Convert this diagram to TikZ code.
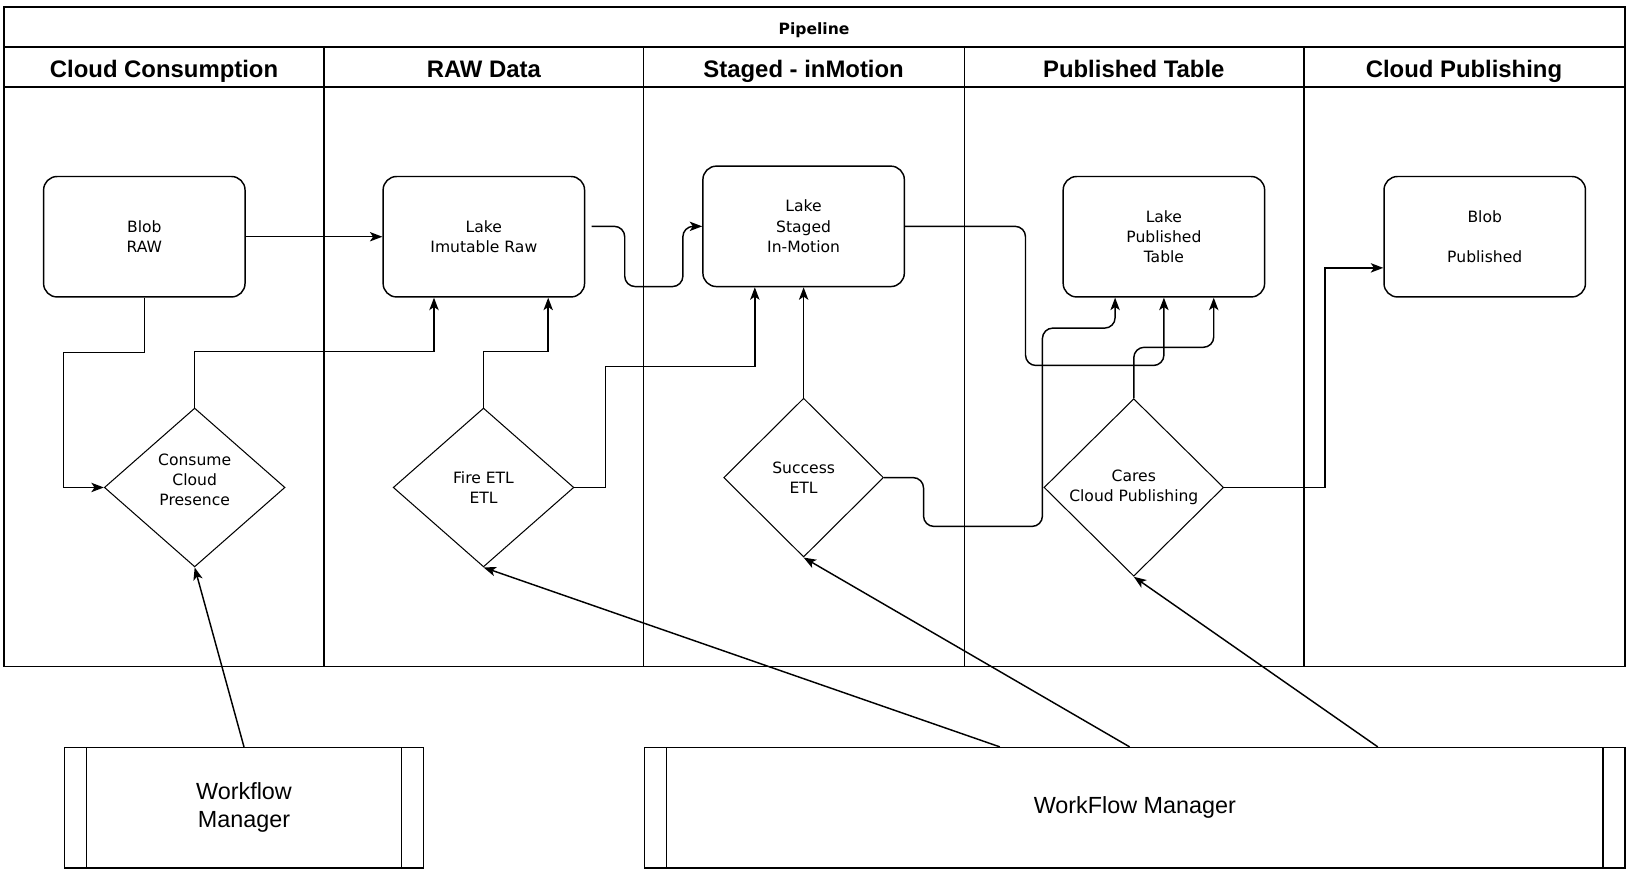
\documentclass[tikz,border=0pt]{standalone}
\usepackage{fontspec}
\setmainfont{Liberation Sans}
\newfontfamily\boxfont{DejaVu Sans}
\usetikzlibrary{arrows.meta,shapes.geometric,calc}

\begin{document}
\begin{tikzpicture}[
		x=1pt, y=-1pt,
		frame/.style={
			line width=1.6pt,
		},
		lanes/.style={
			line width=1.2pt,
		},
		lanehead/.style={
			draw=none,
			fill=none,
			anchor=base,
			font=\bfseries\fontsize{23}{27}\selectfont
		},
		store/.style={
			draw,
			rounded corners=13pt,
			line width=1.4pt,
			minimum width=194pt,
			minimum height=116pt,
			align=center,
			font=\boxfont\fontsize{15}{19.5}\selectfont
		},
		decide/.style={
			draw,
			diamond,
			inner sep=0pt,
			line width=1pt,
			minimum width=174pt,
			minimum height=153pt,
			align=center,
			font=\boxfont\fontsize{15}{19.5}\selectfont
		},
		manager/.style={
			draw,
			line width=1.3pt,
			minimum height=116pt,
			align=center,
			font=\fontsize{22.5}{27}\selectfont,
			path picture={
				\draw[line width=1.3pt] ([xshift=21pt]path picture bounding box.north west) -- ([xshift=21pt]path picture bounding box.south west);
				\draw[line width=1.3pt] ([xshift=-21pt]path picture bounding box.north east) -- ([xshift=-21pt]path picture bounding box.south east);
			}
		},
		flow/.style={
			->,
			line width=1.4pt
		},
		>={Stealth[length=12pt,width=9pt,inset=3pt]}
		]
		\useasboundingbox (0,0) rectangle (1568,841);

		% swimlane frame
		\draw[frame] (4,7) rectangle (1565,642);
		\draw[frame] (4,45) -- (1565,45);
		\draw[frame] (4,84) -- (1565,84);
		\foreach \lx in {312,620,929,1256}
			\draw[lanes] (\lx,45) -- (\lx,642);
		\node[anchor=base, font=\boxfont\bfseries\fontsize{15}{17}\selectfont] (pipeline) at (784,33) {Pipeline};
		\foreach \hx/\htext [count=\hi] in {158/Cloud Consumption, 466/RAW Data, 774/Staged - inMotion, 1092/Published Table, 1410/Cloud Publishing}
			\node[lanehead] (head\hi) at (\hx,74.5) {\htext};

		% stores
		\node[store] (blobraw) at (139,228) {Blob\\RAW};
		\node[store] (lakeraw) at (466,228) {Lake\\Imutable Raw};
		\node[store] (lakestaged) at (774,218) {Lake\\Staged\\In-Motion};
		\node[store] (lakepub) at (1121,228) {Lake\\Published\\Table};
		\node[store] (blobpub) at (1430,228) {Blob\\[19.5pt]Published};

		% decisions
		\node[decide] (consume) at (187.5,469.5) {Consume\\Cloud\\Presence\\[-4.5pt]\mbox{}};
		\node[decide] (fire) at (465.7,469.5) {Fire ETL\\ETL};
		\node[decide, minimum width=154pt] (success) at (774,460) {Success\\ETL};
		\node[decide, minimum width=173pt, minimum height=171pt] (cares) at (1092,469.5) {Cares\\Cloud Publishing};

		% workflow managers
		\node[manager, minimum width=346pt] (wfleft) at (235,778) {Workflow\\Manager};
		\node[manager, minimum width=944pt] (wfright) at (1093,778) {WorkFlow Manager};

		% flows
		\draw[flow] (blobraw.east) -- (lakeraw.west);
		\draw[flow] (blobraw.south) -- ++(0,53) -| ([xshift=-39pt]consume.west) -- (consume.west);
		\draw[flow] (consume.north) -- ++(0,-54) -| ([xshift=-48pt]lakeraw.south);
		\draw[flow] (fire.north) -- ++(0,-54) -| ([xshift=62pt]lakeraw.south);
		\draw[flow] (fire.east) -- ++(30,0) -- ++(0,-116.5) -| ([xshift=-47pt]lakestaged.south);
		\draw[flow] (success.north) -- (lakestaged.south);
		\draw[flow, rounded corners=10pt] ($(lakeraw.east |- lakestaged.west)+(6,0)$) -- ++(32,0) -- ++(0,58) -- ++(56,0) -- ++(0,-58) -- (lakestaged.west);
		\draw[flow, rounded corners=10pt] (lakestaged.east) -- ++(116,0) -- ++(0,134) -| (lakepub.south);
		\draw[flow, rounded corners=10pt] (success.east) -- ++(38,0) -- ++(0,47) -- ++(114.5,0) -- ++(0,-191) -| ([xshift=-47pt]lakepub.south);
		\draw[flow, rounded corners=10pt] (cares.north) -- ++(0,-49) -| ([xshift=48pt]lakepub.south);
		\draw[flow] (cares.east) -- ++(97,0) |- ($(blobpub.west)+(0,30)$);
		\draw[flow] (wfleft.north) -- (consume.south);
		\draw[flow] ([xshift=-130pt]wfright.north) -- (fire.south);
		\draw[flow] ([xshift=-5pt]wfright.north) -- (success.south);
		\draw[flow] ([xshift=234pt]wfright.north) -- (cares.south);
\end{tikzpicture}
\end{document}
